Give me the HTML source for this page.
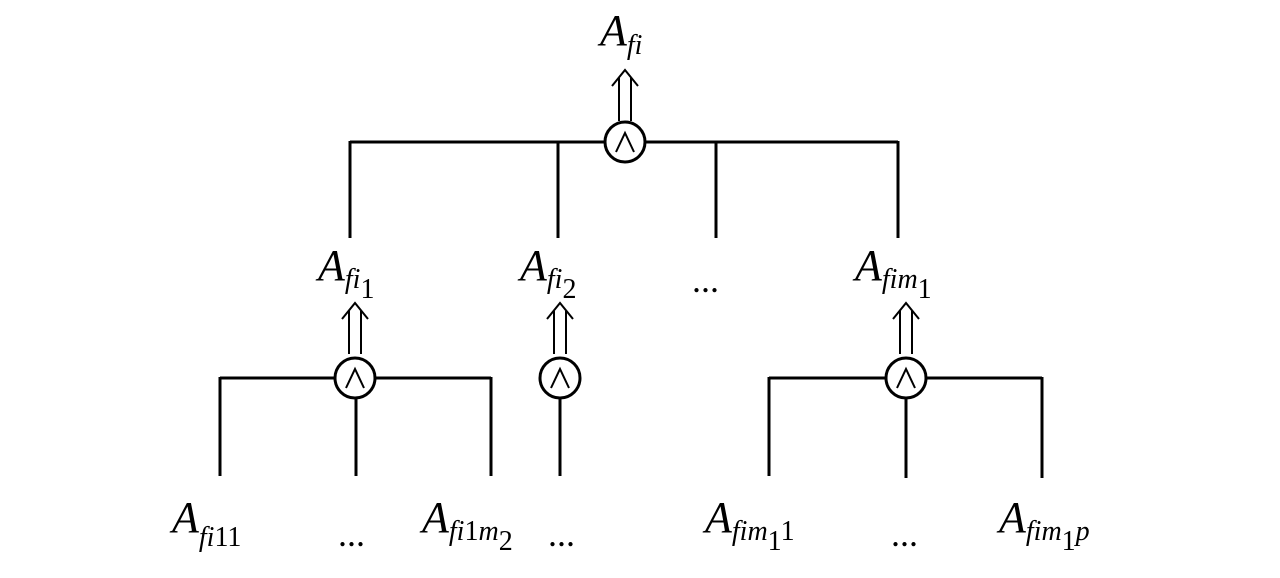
<!DOCTYPE html>
<html><head><style>html,body{margin:0;padding:0;background:#fff}</style></head><body>
<svg width="1280" height="573" viewBox="0 0 1280 573" xmlns="http://www.w3.org/2000/svg" font-family="Liberation Serif, serif" font-style="italic" fill="#000">
<g stroke="#000" stroke-width="3" fill="none">
<!-- top -->
<line x1="350" y1="142" x2="605" y2="142"/><line x1="645" y1="142" x2="898" y2="142"/>
<line x1="350" y1="141" x2="350" y2="238"/><line x1="558" y1="141" x2="558" y2="238"/>
<line x1="716" y1="141" x2="716" y2="238"/><line x1="898" y1="141" x2="898" y2="238"/>
<circle cx="625" cy="142" r="20"/>
<!-- left -->
<line x1="220" y1="378" x2="335" y2="378"/><line x1="375" y1="378" x2="491" y2="378"/>
<line x1="220" y1="377" x2="220" y2="476"/><line x1="356" y1="398" x2="356" y2="476"/><line x1="491" y1="377" x2="491" y2="476"/>
<circle cx="355" cy="378" r="20"/>
<!-- mid -->
<circle cx="560" cy="378" r="20"/><line x1="560" y1="398" x2="560" y2="476"/>
<!-- right -->
<line x1="769" y1="378" x2="886" y2="378"/><line x1="926" y1="378" x2="1042" y2="378"/>
<line x1="769" y1="377" x2="769" y2="476"/><line x1="906" y1="398" x2="906" y2="478"/><line x1="1042" y1="377" x2="1042" y2="478"/>
<circle cx="906" cy="378" r="20"/>
</g>
<g stroke="#000" stroke-width="2" fill="none">
<polyline points="616,152 625,133 634,152"/>
<polyline points="346,388 355,369 364,388"/>
<polyline points="551,388 560,369 569,388"/>
<polyline points="897,388 906,369 915,388"/>
<!-- double arrows -->
<path d="M619,121V78M631,121V78M612,86L625,70L638,86"/>
<path d="M349,354V311M361,354V311M342,319L355,303L368,319"/>
<path d="M554,354V311M566,354V311M547,319L560,303L573,319"/>
<path d="M900,354V311M912,354V311M893,319L906,303L919,319"/>
</g>
<g font-size="44">
<text x="600" y="45">A<tspan font-size="28" dy="9">fi</tspan></text>
<text x="318" y="280">A<tspan font-size="28" dy="8">fi</tspan><tspan font-size="28" font-style="normal" dy="10">1</tspan></text>
<text x="520" y="280">A<tspan font-size="28" dy="8">fi</tspan><tspan font-size="28" font-style="normal" dy="10">2</tspan></text>
<text x="692" y="292" font-style="normal" font-size="36">...</text>
<text x="855" y="280">A<tspan font-size="28" dy="8">fim</tspan><tspan font-size="28" font-style="normal" dy="10">1</tspan></text>
<text x="172" y="532">A<tspan font-size="28" dy="14">fi</tspan><tspan font-size="28" font-style="normal">11</tspan></text>
<text x="338" y="546" font-style="normal" font-size="36">...</text>
<text x="422" y="532">A<tspan font-size="28" dy="8">fi</tspan><tspan font-size="28" font-style="normal">1</tspan><tspan font-size="28">m</tspan><tspan font-size="28" font-style="normal" dy="10">2</tspan></text>
<text x="548" y="546" font-style="normal" font-size="36">...</text>
<text x="705" y="532">A<tspan font-size="28" dy="8">fim</tspan><tspan font-size="28" font-style="normal" dy="10">1</tspan><tspan font-size="28" font-style="normal" dy="-10">1</tspan></text>
<text x="891" y="546" font-style="normal" font-size="36">...</text>
<text x="999" y="532">A<tspan font-size="28" dy="8">fim</tspan><tspan font-size="28" font-style="normal" dy="10">1</tspan><tspan font-size="28" dy="-10">p</tspan></text>
</g>
</svg>
</body></html>
